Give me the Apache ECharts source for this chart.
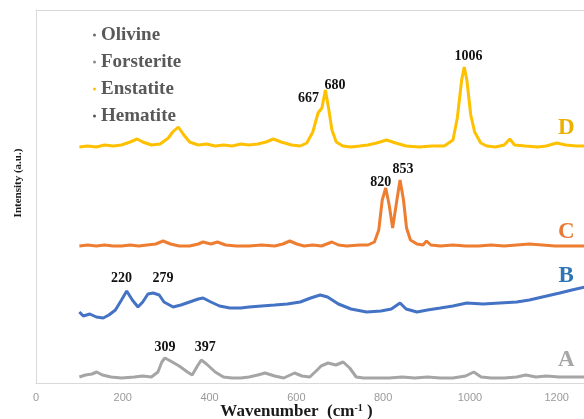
<!DOCTYPE html>
<html>
<head>
<meta charset="utf-8">
<script src="https://cdn.jsdelivr.net/npm/echarts@6/dist/echarts.min.js"></script>
<style>html,body{margin:0;padding:0;background:#fff;}#c{width:584px;height:419px;}</style>
</head>
<body>
<div id="c"></div>
<script>
// ---- data (intensity in arbitrary units, offset-stacked spectra) ----
const xTicks = [0, 200, 400, 600, 800, 1000, 1200];
const xMin = 0, xMax = 1263;   // the picture is cropped on the right just past 1200
const legendNames = ['Olivine', 'Forsterite', 'Enstatite', 'Hematite'];

const waveD = [100,119,139,158,178,197,217,233,246,266,286,305,315,328,339,354,374,393,413,432,452,472,491,511,530,547,565,589,609,624,638,650,659,667,675,682,692,707,726,746,765,785,808,829,853,883,912,941,961,971,981,987,993,1002,1011,1025,1039,1059,1079,1092,1103,1128,1157,1176,1200,1221,1245,1265];
const intD  = [236,237,236,238,237,238,241,244,241,238,239,245,251,256,249,241,238,239,237,238,237,239,238,239,241,244,241,238,237,240,251,270,275,293,273,253,241,237,236,237,238,240,243,240,237,236,237,237,243,265,303,316,303,268,251,240,237,236,238,244,238,237,236,237,240,238,237,237];

const waveC = [100,119,139,158,178,197,217,237,256,276,293,310,330,354,374,385,403,418,437,462,491,520,550,569,585,601,618,638,658,682,697,716,746,765,780,790,798,806,814,822,830,839,847,854,863,878,892,900,910,932,961,990,1020,1049,1079,1108,1137,1167,1196,1225,1265];
const intC  = [137,138,137,138,137,137,138,137,138,139,142,139,137,137,139,141,139,141,138,137,137,138,137,139,142,139,137,138,137,141,138,137,138,138,141,153,183,195,178,155,178,203,183,155,143,139,138,142,138,137,138,137,137,138,137,138,139,138,137,137,137];

const waveB = [100,109,124,139,155,168,183,197,209,222,235,246,258,270,284,295,316,334,354,374,385,403,423,447,472,491,520,550,579,609,633,655,672,697,726,762,795,819,839,853,878,902,932,961,993,1030,1069,1108,1137,1167,1207,1235,1265];
const intB  = [71,67,69,66,65,68,73,83,92,83,76,81,89,90,88,81,76,78,81,84,85,81,77,75,75,76,77,78,79,81,85,88,86,79,74,71,72,74,80,74,71,73,75,77,80,79,80,81,83,86,90,93,96];

const waveA = [100,114,129,140,153,173,197,227,246,266,281,290,297,310,330,349,360,372,381,393,413,432,452,472,491,511,528,550,571,596,613,631,648,657,673,691,708,723,738,755,785,814,844,873,902,932,961,990,1009,1026,1049,1079,1108,1129,1152,1176,1206,1235,1265];
const intA  = [6,8,9,11,8,6,5,6,7,6,11,21,25,22,17,11,8,17,23,19,11,6,5,5,6,8,10,7,5,10,7,6,13,17,20,18,21,15,6,5,5,5,6,5,6,5,5,7,11,6,5,5,6,8,6,7,6,6,6];

const peaksA = [309, 397];
const peaksB = [220, 279];
const peaksC = [820, 853];
const peaksD = [667, 680, 1006];

// ---- helpers ----
function pairs(w, v) { return w.map((x, i) => [x, v[i]]); }
function nearest(w, v, p) {
  let best = 0;
  for (let i = 1; i < w.length; i++) if (Math.abs(w[i] - p) < Math.abs(w[best] - p)) best = i;
  return v[best];
}
const serif = 'Liberation Serif';
function peakMarks(w, v, peaks, offsets) {
  return peaks.map((p, i) => ({
    coord: [p, nearest(w, v, p)],
    label: { formatter: String(p), offset: offsets[i] }
  }));
}
function letterMark(v, letter, color, lift) {
  const last = v[v.length - 1];
  return {
    coord: [1222, last + lift],
    label: { formatter: letter, color: color, fontSize: 23, fontWeight: 'bold', fontFamily: serif, offset: [0, 0] }
  };
}
const peakLabelStyle = {
  show: true, position: 'inside', color: '#111', fontFamily: serif, fontWeight: 'bold', fontSize: 14
};
function specSeries(name, w, v, color, peaks, offsets, letterColor, lift) {
  return {
    name: name, type: 'line', data: pairs(w, v), showSymbol: false, symbol: 'none',
    lineStyle: { color: color, width: 3 }, itemStyle: { color: color },
    animation: false, z: 2, clip: true,
    markPoint: {
      symbol: 'circle', symbolSize: 1, itemStyle: { color: 'rgba(0,0,0,0)' },
      label: peakLabelStyle, animation: false,
      data: peakMarks(w, v, peaks, offsets).concat([letterMark(v, name, letterColor, lift)])
    }
  };
}

const legendColors = ['#6b6b6b', '#8a8a8a', '#FFC000', '#555555'];
const frame = '#d9d9d9';

const chart = echarts.init(document.getElementById('c'), null, { renderer: 'canvas' });
chart.setOption({
  backgroundColor: '#ffffff',
  animation: false,
  grid: { left: 36, top: 10, right: 0, bottom: 36, show: false, containLabel: false, outerBoundsMode: 'none' },
  legend: {
    data: legendNames, orient: 'vertical', left: 88, top: 20, itemGap: 7,
    icon: 'circle', itemWidth: 3, itemHeight: 3,
    textStyle: { fontFamily: serif, fontWeight: 'bold', fontSize: 19, color: '#595959', lineHeight: 20 },
    selectedMode: false
  },
  xAxis: [{
    type: 'value', min: xMin, max: xMax, interval: 200,
    axisLine: { show: true, lineStyle: { color: frame } },
    axisTick: { show: false }, splitLine: { show: false },
    axisLabel: {
      color: '#9a9a9a', fontSize: 11, fontFamily: 'Liberation Sans', margin: 9, showMaxLabel: false,
      formatter: v => (xTicks.indexOf(v) >= 0 ? String(v) : '')
    },
    name: 'Wavenumber  (cm{sup|-1} )', nameLocation: 'middle', nameGap: 20, nameMoveOverlap: false,
    nameTextStyle: {
      fontFamily: serif, fontWeight: 'bold', fontSize: 17, color: '#1a1a1a', padding: [0, 27, 0, 0],
      rich: { sup: { fontFamily: serif, fontWeight: 'bold', fontSize: 10, color: '#1a1a1a', padding: [0, 0, 8, 0] } }
    }
  }, {
    type: 'value', position: 'top', min: xMin, max: xMax,
    axisLine: { show: true, onZero: false, lineStyle: { color: frame } },
    axisTick: { show: false }, axisLabel: { show: false }, splitLine: { show: false }
  }],
  yAxis: {
    type: 'value', min: 0, max: 373,
    axisLine: { show: true, onZero: false, lineStyle: { color: frame } },
    axisTick: { show: false }, axisLabel: { show: false }, splitLine: { show: false },
    name: 'Intensity (a.u.)', nameLocation: 'middle', nameGap: 12,
    nameTextStyle: { fontFamily: serif, fontWeight: 'bold', fontSize: 11, color: '#1a1a1a', padding: [0, 0, 0, 27] }
  },
  series: [
    specSeries('A', waveA, intA, '#A5A5A5', peaksA, [[-5, -14], [-3, -17]], '#A6A6A6', 17),
    specSeries('B', waveB, intB, '#4472C4', peaksB, [[-10, -22], [6, -17]], '#2E75B6', 11),
    specSeries('C', waveC, intC, '#ED7D31', peaksC, [[-11, -46], [-3, -59]], '#E97A35', 14),
    specSeries('D', waveD, intD, '#FFC000', peaksD, [[-17, 8], [4, -45], [-4, -59]], '#EBB000', 18)
  ].concat(legendNames.map((n, i) => ({
    name: n, type: 'line', data: [], itemStyle: { color: legendColors[i] }, lineStyle: { color: legendColors[i] }
  })))
});
</script>
</body>
</html>
